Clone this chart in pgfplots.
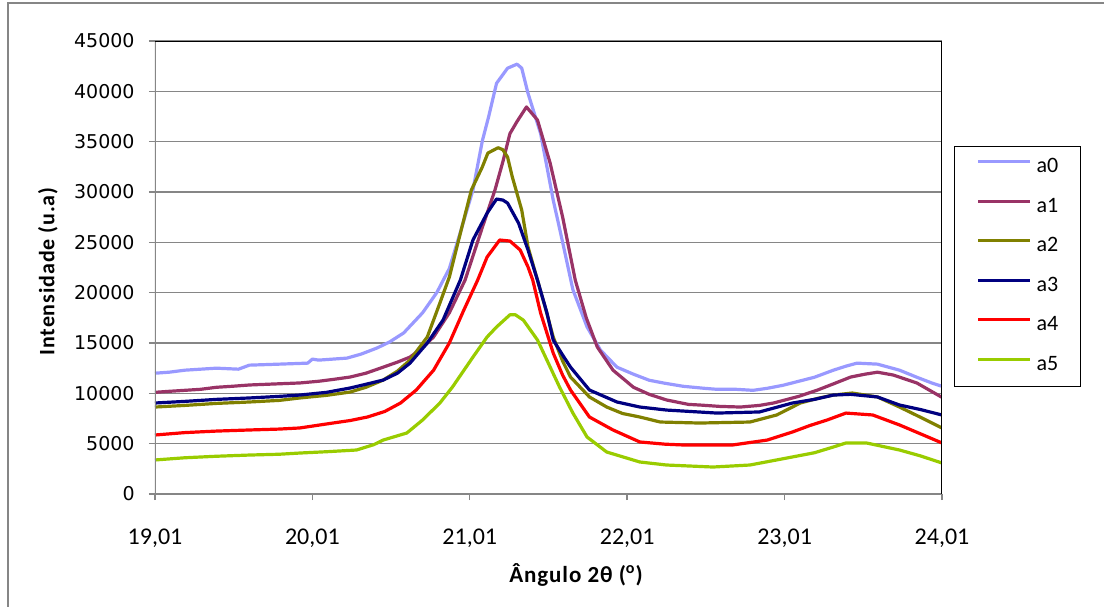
\documentclass[border=0pt]{standalone}
\usepackage{pgfplots}
\pgfplotsset{compat=1.18}
\usepackage{pgfplotstable}
\usepackage{fontspec}
\setmainfont{Carlito}
\newfontfamily\dejavu{DejaVu Sans}
\newfontfamily\lblfont{Carlito}[LetterSpace=4]
\definecolor{c0}{HTML}{9999FF}
\definecolor{c1}{HTML}{993366}
\definecolor{c2}{HTML}{808000}
\definecolor{c3}{HTML}{000080}
\definecolor{c4}{HTML}{FF0000}
\definecolor{c5}{HTML}{99CC00}
\definecolor{gridgray}{HTML}{868686}

\pgfplotstableread{
x y
19.01 12000
19.10 12100
19.20 12300
19.30 12400
19.40 12500
19.54 12400
19.61 12800
19.80 12900
19.98 13000
20.01 13400
20.05 13300
20.23 13500
20.32 13900
20.42 14500
20.50 15100
20.59 16000
20.71 18000
20.80 20000
20.88 22400
20.95 26000
21.03 30200
21.09 35100
21.13 37500
21.18 40800
21.25 42300
21.31 42700
21.34 42300
21.38 39800
21.46 35800
21.54 29200
21.60 25000
21.665 20300
21.755 16600
21.84 14300
21.945 12600
22.05 11900
22.15 11300
22.25 11000
22.365 10700
22.50 10500
22.58 10400
22.70 10400
22.81 10300
22.90 10500
23.00 10800
23.10 11200
23.20 11600
23.32 12300
23.40 12700
23.47 13000
23.60 12900
23.74 12300
23.85 11600
23.95 11000
24.01 10700
}\dataA

\pgfplotstableread{
x y
19.01 10100
19.10 10200
19.20 10300
19.30 10400
19.40 10600
19.50 10700
19.61 10830
19.80 10950
19.93 11030
20.05 11200
20.15 11400
20.25 11620
20.35 12000
20.46 12600
20.55 13100
20.63 13600
20.70 14400
20.78 15600
20.88 18000
20.98 21250
21.09 26500
21.17 30200
21.22 33000
21.265 35800
21.31 37000
21.37 38450
21.44 37150
21.52 32900
21.60 27500
21.68 21250
21.75 17500
21.82 14600
21.92 12300
22.05 10600
22.15 9900
22.26 9340
22.40 8900
22.47 8840
22.60 8700
22.73 8640
22.85 8800
22.94 9040
23.10 9700
23.22 10330
23.33 11000
23.43 11620
23.52 11900
23.60 12100
23.70 11820
23.85 11030
24.01 9600
}\dataB

\pgfplotstableread{
x y
19.01 8640
19.20 8800
19.40 9000
19.61 9140
19.80 9300
19.93 9540
20.10 9800
20.25 10130
20.35 10600
20.46 11320
20.55 12200
20.63 13300
20.74 15600
20.82 18970
20.88 21550
20.95 25900
21.02 30200
21.09 32500
21.125 33870
21.19 34400
21.22 34200
21.25 33470
21.28 31500
21.34 28200
21.38 24540
21.44 21250
21.49 18500
21.54 15600
21.60 13200
21.65 11620
21.77 9640
21.88 8640
21.98 8000
22.09 7650
22.22 7150
22.47 7050
22.79 7150
22.96 7850
23.11 9040
23.22 9500
23.32 9830
23.44 10030
23.60 9640
23.74 8640
23.87 7650
24.01 6560
}\dataC

\pgfplotstableread{
x y
19.01 9040
19.20 9200
19.40 9400
19.61 9540
19.80 9700
19.93 9830
20.10 10100
20.25 10530
20.35 10900
20.46 11320
20.55 12000
20.63 13000
20.74 15000
20.84 17280
20.95 21250
21.03 25230
21.12 27900
21.18 29300
21.22 29200
21.25 28900
21.32 26900
21.38 24240
21.44 21250
21.50 18000
21.54 15300
21.60 13800
21.65 12600
21.77 10330
21.945 9140
22.09 8640
22.26 8340
22.58 8040
22.85 8150
23.06 9040
23.20 9400
23.32 9830
23.43 9900
23.60 9640
23.74 8840
23.87 8400
24.01 7850
}\dataD

\pgfplotstableread{
x y
19.01 5860
19.20 6100
19.40 6250
19.61 6360
19.80 6450
19.93 6560
20.14 7050
20.25 7300
20.36 7650
20.47 8200
20.57 9040
20.67 10330
20.78 12300
20.88 15000
20.97 18200
21.06 21250
21.12 23540
21.20 25230
21.265 25130
21.33 24240
21.38 22550
21.41 21250
21.46 17980
21.54 14000
21.60 11800
21.65 10330
21.77 7650
21.92 6360
22.09 5170
22.25 4950
22.365 4870
22.68 4870
22.90 5360
23.06 6160
23.17 6800
23.28 7350
23.40 8040
23.57 7850
23.74 6860
23.87 6000
24.01 5070
}\dataE

\pgfplotstableread{
x y
19.01 3380
19.20 3600
19.40 3750
19.61 3870
19.80 3950
19.93 4070
20.10 4200
20.29 4370
20.40 4900
20.46 5360
20.61 6060
20.71 7350
20.82 9040
20.90 10630
21.03 13600
21.12 15600
21.18 16590
21.265 17800
21.30 17800
21.35 17280
21.44 15300
21.50 13300
21.58 10630
21.665 8040
21.755 5660
21.88 4170
22.09 3180
22.26 2880
22.555 2680
22.79 2880
23.06 3680
23.20 4100
23.32 4670
23.40 5070
23.53 5070
23.74 4370
23.87 3800
24.01 3080
}\dataF

\begin{document}
\begin{tikzpicture}
\begin{axis}[
  at={(0,0)}, anchor=south west,
  scale only axis, width=393.5pt, height=226.5pt,
  xmin=19.01, xmax=24.01, ymin=0, ymax=45000,
  axis line style={draw=none},
  xtick={19.01,20.01,21.01,22.01,23.01,24.01},
  xticklabels={{19,01},{20,01},{21,01},{22,01},{23,01},{24,01}},
  ytick={0,5000,...,45000},
  scaled y ticks=false,
  xtick pos=bottom, ytick pos=left,
  tick align=outside, major tick length=3pt,
  every tick/.style={gridgray, line width=0.7pt},
  ymajorgrids, grid style={gridgray, line width=0.7pt},
  yticklabel style={font=\dejavu\fontsize{9.5}{11}\selectfont, /pgf/number format/1000 sep={}, /pgf/number format/assume math mode=true, anchor=east, inner sep=0pt, xshift=-7pt},
  xticklabel style={font=\fontsize{12}{14}\selectfont, anchor=north, inner sep=0pt, yshift=-14.5pt},
  legend style={at={(1,1)}, anchor=north west, xshift=6pt, yshift=-52.5pt, draw=black, line width=0.6pt, inner xsep=11pt, inner ysep=6pt, font=\fontsize{11}{13}\selectfont, nodes={inner sep=0pt, text height=7pt, text depth=2pt}, row sep=10.75pt, /tikz/every odd column/.append style={column sep=2.5pt}},
  legend cell align=left,
  legend image code/.code={\draw[#1, line width=1.5pt] (0pt,3pt) -- (26pt,3pt);},
  every axis plot/.append style={line width=1.6pt, line join=round, no markers},
]
\addplot[c0] table {\dataA};
\addlegendentry{a0}
\addplot[c1] table {\dataB};
\addlegendentry{a1}
\addplot[c2] table {\dataC};
\addlegendentry{a2}
\addplot[c3] table {\dataD};
\addlegendentry{a3}
\addplot[c4] table {\dataE};
\addlegendentry{a4}
\addplot[c5] table {\dataF};
\addlegendentry{a5}
\draw[gridgray, line width=1pt] (rel axis cs:0,1) -- (rel axis cs:0,0) -- (rel axis cs:1,0);
\draw[black, line width=1pt] (rel axis cs:0,1) -- (rel axis cs:1,1) -- (rel axis cs:1,0);
\end{axis}
\node[rotate=90, font=\lblfont\bfseries\fontsize{11}{13}\selectfont] at (-53.5pt,111.25pt) {Intensidade (u.a)};
\node[font=\lblfont\bfseries\fontsize{11.5}{13}\selectfont] at (210.5pt,-40.5pt) {Ângulo 2θ (\textsuperscript{o})};
\draw[gridgray, line width=0.8pt] (-73.5pt,-70pt) -- (-73.5pt,245.5pt) -- (480pt,245.5pt);
\pgfresetboundingbox
\useasboundingbox (-77.5pt,-56pt) rectangle (474.5pt,247pt);
\end{tikzpicture}
\end{document}
